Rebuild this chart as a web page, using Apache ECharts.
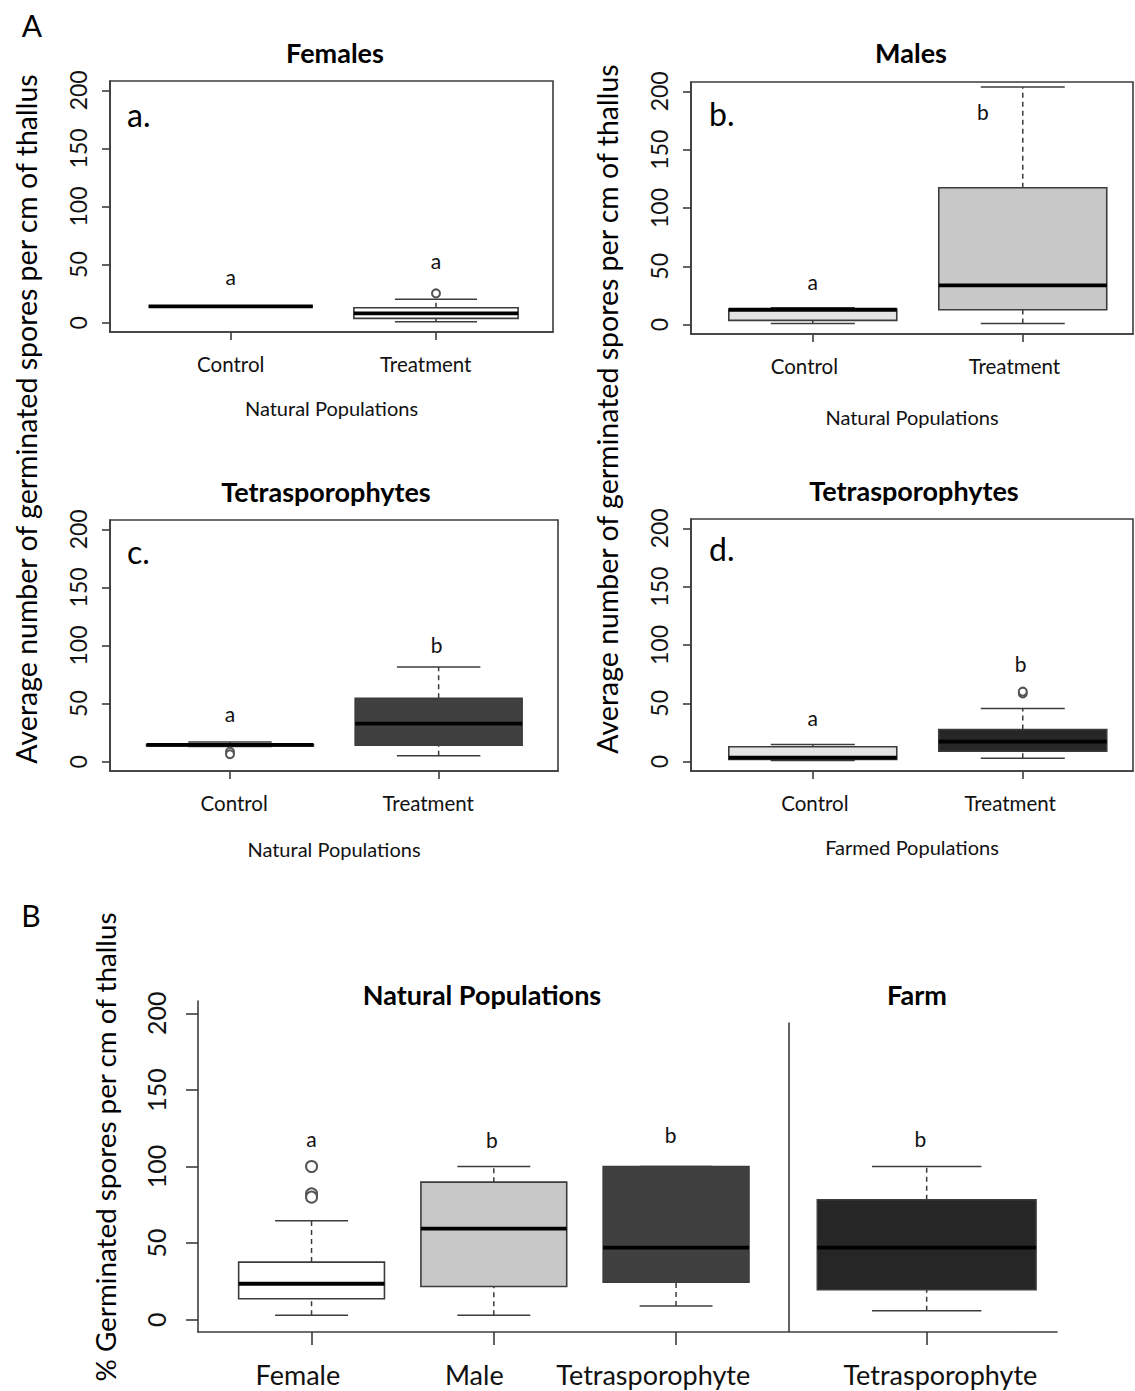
<!DOCTYPE html>
<html>
<head>
<meta charset="utf-8">
<script src="https://cdn.jsdelivr.net/npm/echarts@6.0.0/dist/echarts.min.js"></script>
<style>
  html, body { margin: 0; padding: 0; background: #fff; }
  #chart { width: 1135px; height: 1391px; }
</style>
</head>
<body>
<div id="chart"></div>
<script>
// ---- data ----
// each box: [lower whisker, Q1, median, Q3, upper whisker]
const groupsA = ['Control', 'Treatment'];
const posA = [1, 2];

const femalesBox = [[14, 14, 14, 14, 14], [0.9, 3.7, 8.0, 12.9, 20.1]];
const femalesOut = [[2, 25.2]];
const femalesLetters = ['a', 'a'];
const femalesLetterXY = [[1, 40], [2, 53.6]];

const malesBox = [[0.9, 3.7, 12.8, 13.4, 14.5], [0.9, 12.8, 33.6, 117.4, 203.7]];
const malesOut = [];
const malesLetters = ['a', 'b'];
const malesLetterXY = [[1, 37], [1.81, 182.3]];

const tetraNatBox = [[13, 13.6, 14.4, 14.8, 16.9], [5.2, 14.1, 32.7, 54.5, 81.4]];
const tetraNatOut = [[1, 8.6], [1, 6.4]];
const tetraNatLetters = ['a', 'b'];
const tetraNatLetterXY = [[1, 41.6], [1.99, 101.2]];

const tetraFarmBox = [[0.9, 2.0, 3.4, 12.8, 14.8], [2.9, 8.9, 17.1, 27.6, 45.6]];
const tetraFarmOut = [[2, 58.5], [2, 60]];
const tetraFarmLetters = ['a', 'b'];
const tetraFarmLetterXY = [[1, 37.5], [1.99, 84.5]];

// panel B: % germinated spores
const groupsB = ['Female', 'Male', 'Tetrasporophyte', 'Tetrasporophyte'];
const posB = [1, 2, 3, 4.375];
const pctBox = [
  [3.0, 13.7, 23.5, 37.6, 64.6],
  [3.0, 21.7, 59.4, 89.8, 100],
  [8.9, 24.5, 47.0, 100, 100],
  [5.9, 19.6, 47.0, 78.3, 100]
];
const pctOut = [[1, 100], [1, 82.2], [1, 80]];
const pctLetters = ['a', 'b', 'b', 'b'];
const pctLetterXY = [[1, 118.3], [1.99, 117.6], [2.97, 120.9], [4.34, 118.3]];
const dividerX = 3.62, dividerTop = 194;

const yTicks = [0, 50, 100, 150, 200];

// ---- styling / layout ----
const FONT = 'Lato';
const INK = '#111';
const LINE = '#3c3c3c';

const panels = [
  { title: 'Females', tag: 'a.', xName: 'Natural Populations', box: femalesBox, out: femalesOut,
    letters: femalesLetters, letterXY: femalesLetterXY, fills: ['#ffffff', '#ffffff'],
    grid: { left: 110, top: 81, width: 443, height: 251 }, xr: [0.412, 2.57], labelPos: [1.0, 1.95],
    nameGap: 66, titleXY: [335, 52], tagXY: [127, 114] },
  { title: 'Males', tag: 'b.', xName: 'Natural Populations', box: malesBox, out: malesOut,
    letters: malesLetters, letterXY: malesLetterXY, fills: ['#e4e4e4', '#c8c8c8'],
    grid: { left: 691, top: 82, width: 442, height: 252 }, xr: [0.42, 2.525], labelPos: [0.96, 1.96],
    nameGap: 73, titleXY: [911, 52], tagXY: [709, 113] },
  { title: 'Tetrasporophytes', tag: 'c.', xName: 'Natural Populations', box: tetraNatBox, out: tetraNatOut,
    letters: tetraNatLetters, letterXY: tetraNatLetterXY, fills: ['#e4e4e4', '#404040'],
    grid: { left: 110, top: 520, width: 448, height: 251 }, xr: [0.425, 2.572], labelPos: [1.02, 1.95],
    nameGap: 68, titleXY: [326, 491], tagXY: [127, 551] },
  { title: 'Tetrasporophytes', tag: 'd.', xName: 'Farmed Populations', box: tetraFarmBox, out: tetraFarmOut,
    letters: tetraFarmLetters, letterXY: tetraFarmLetterXY, fills: ['#e4e4e4', '#262626'],
    grid: { left: 691, top: 519, width: 442, height: 252 }, xr: [0.42, 2.525], labelPos: [1.01, 1.94],
    nameGap: 66, titleXY: [914, 490], tagXY: [709, 548] }
];

const boxHalfA = [0.4, 0.4];
const boxHalfB = [0.4, 0.4, 0.4, 0.6];
const labelPosB = [0.925, 1.893, 2.875, 4.45];

function boxRenderer(fills, halfW) {
  return function (params, api) {
    const i = params.dataIndex;
    const x = api.value(0);
    const c = api.coord([x, 0])[0];
    const y = v => api.coord([x, v])[1];
    const hw = api.size([halfW[i], 0])[0];
    const lo = api.value(1), q1 = api.value(2), md = api.value(3), q3 = api.value(4), hi = api.value(5);
    const thin = { stroke: LINE, lineWidth: 1.5 };
    const dashed = { stroke: LINE, lineWidth: 1.5, lineDash: [5, 4] };
    return {
      type: 'group',
      children: [
        { type: 'line', shape: { x1: c, y1: y(q3), x2: c, y2: y(hi) }, style: dashed },
        { type: 'line', shape: { x1: c, y1: y(lo), x2: c, y2: y(q1) }, style: dashed },
        { type: 'line', shape: { x1: c - hw / 2, y1: y(hi), x2: c + hw / 2, y2: y(hi) }, style: thin },
        { type: 'line', shape: { x1: c - hw / 2, y1: y(lo), x2: c + hw / 2, y2: y(lo) }, style: thin },
        { type: 'rect', shape: { x: c - hw, y: y(q3), width: 2 * hw, height: y(q1) - y(q3) },
          style: { fill: fills[i], stroke: LINE, lineWidth: 1.6 } },
        { type: 'line', shape: { x1: c - hw, y1: y(md), x2: c + hw, y2: y(md) },
          style: { stroke: '#000', lineWidth: 3.8 } }
      ]
    };
  };
}

const grids = [], xAxes = [], yAxes = [], series = [], graphics = [];

function addPanel(idx, cfg) {
  const { grid, xr, boxes, pos, names, labelPos, fills, halfW, out, letters, letterXY, big } = cfg;
  grids.push(Object.assign({
    show: !big, borderColor: LINE, borderWidth: 1.6, backgroundColor: 'transparent'
  }, grid));
  xAxes.push({
    gridIndex: idx, type: 'value', min: xr[0], max: xr[1],
    splitLine: { show: false },
    axisLine: { show: true, onZero: false, lineStyle: { color: LINE, width: 1.6 } },
    axisTick: { show: true, customValues: pos, length: big ? 13 : 8, lineStyle: { color: LINE, width: 1.6 } },
    axisLabel: {
      customValues: labelPos, margin: big ? 29 : 21,
      fontFamily: FONT, fontSize: big ? 27 : 20.5, color: INK,
      formatter: v => names[labelPos.findIndex(p => Math.abs(p - v) < 1e-6)]
    },
    name: cfg.xName || '', nameLocation: 'middle', nameGap: cfg.nameGap || 0,
    nameTextStyle: { fontFamily: FONT, fontSize: 20, color: INK }
  });
  yAxes.push({
    gridIndex: idx, type: 'value', min: -8, max: 208,
    splitLine: { show: false },
    axisLine: { show: true, onZero: false, lineStyle: { color: LINE, width: 1.6 } },
    axisTick: { show: true, customValues: yTicks, length: big ? 12 : 8, lineStyle: { color: LINE, width: 1.6 } },
    axisLabel: {
      customValues: yTicks, rotate: 90, margin: big ? 30 : 21,
      fontFamily: FONT, fontSize: big ? 25 : 23, color: INK
    }
  });
  const boxSeries = {
    type: 'custom', xAxisIndex: idx, yAxisIndex: idx,
    renderItem: boxRenderer(fills, halfW),
    encode: { x: 0, y: [1, 2, 3, 4, 5] },
    data: boxes.map((b, i) => [pos[i]].concat(b)),
    z: 3
  };
  if (cfg.divider) {
    boxSeries.markLine = {
      silent: true, symbol: 'none', label: { show: false },
      lineStyle: { color: LINE, width: 1.6, type: 'solid' },
      data: [[{ coord: [cfg.divider[0], -8] }, { coord: [cfg.divider[0], cfg.divider[1]] }]]
    };
  }
  series.push(boxSeries);
  series.push({
    type: 'scatter', xAxisIndex: idx, yAxisIndex: idx,
    symbol: 'emptyCircle', symbolSize: big ? 11 : 8,
    itemStyle: { color: '#555', borderColor: '#555', borderWidth: 1.4, opacity: 1 },
    data: out, z: 4
  });
  series.push({
    type: 'scatter', xAxisIndex: idx, yAxisIndex: idx,
    symbolSize: 0, itemStyle: { color: 'transparent', opacity: 1 },
    label: {
      show: true, position: 'inside', fontFamily: FONT, fontSize: 21, color: INK,
      formatter: p => letters[p.dataIndex]
    },
    data: letterXY, z: 5
  });
}

panels.forEach((p, i) => {
  addPanel(i, {
    grid: p.grid, xr: p.xr, boxes: p.box, pos: posA, names: groupsA, labelPos: p.labelPos,
    fills: p.fills, halfW: boxHalfA, out: p.out, letters: p.letters, letterXY: p.letterXY,
    xName: p.xName, nameGap: p.nameGap, big: false
  });
  graphics.push({ type: 'text', x: p.titleXY[0], y: p.titleXY[1],
    style: { text: p.title, fontFamily: FONT, fontWeight: 'bold', fontSize: 27, fill: '#000',
      textAlign: 'center', textVerticalAlign: 'middle' } });
  graphics.push({ type: 'text', x: p.tagXY[0], y: p.tagXY[1],
    style: { text: p.tag, fontFamily: FONT, fontSize: 32, fill: '#000',
      textAlign: 'left', textVerticalAlign: 'middle' } });
});

addPanel(4, {
  grid: { left: 198, top: 1001, width: 859, height: 331 }, xr: [0.377, 5.09],
  boxes: pctBox, pos: posB, names: groupsB, labelPos: labelPosB,
  fills: ['#ffffff', '#c8c8c8', '#404040', '#262626'], halfW: boxHalfB,
  out: pctOut, letters: pctLetters, letterXY: pctLetterXY, big: true,
  divider: [dividerX, dividerTop]
});

// figure-level texts
const yTitleA = 'Average number of germinated spores per cm of thallus';
const txt = (text, x, y, size, opts) => ({
  type: 'text', x, y, rotation: (opts && opts.rot) || 0,
  style: Object.assign({ text, fontFamily: FONT, fontSize: size, fill: '#000',
    textAlign: 'center', textVerticalAlign: 'middle' }, (opts && opts.style) || {})
});
graphics.push(txt('A', 32, 25, 30));
graphics.push(txt('B', 31, 915, 30));
graphics.push(txt(yTitleA, 26, 419, 28.5, { rot: Math.PI / 2 }));
graphics.push(txt(yTitleA, 607, 409, 28.5, { rot: Math.PI / 2 }));
graphics.push(txt('% Germinated spores per cm of thallus', 105, 1147, 27.8, { rot: Math.PI / 2 }));
graphics.push(txt('Natural Populations', 482, 994, 27, { style: { fontWeight: 'bold' } }));
graphics.push(txt('Farm', 917, 994, 27, { style: { fontWeight: 'bold' } }));

const chart = echarts.init(document.getElementById('chart'), null, { renderer: 'svg' });
chart.setOption({
  backgroundColor: '#ffffff',
  animation: false,
  grid: grids,
  xAxis: xAxes,
  yAxis: yAxes,
  series: series,
  graphic: graphics
});
</script>
</body>
</html>
